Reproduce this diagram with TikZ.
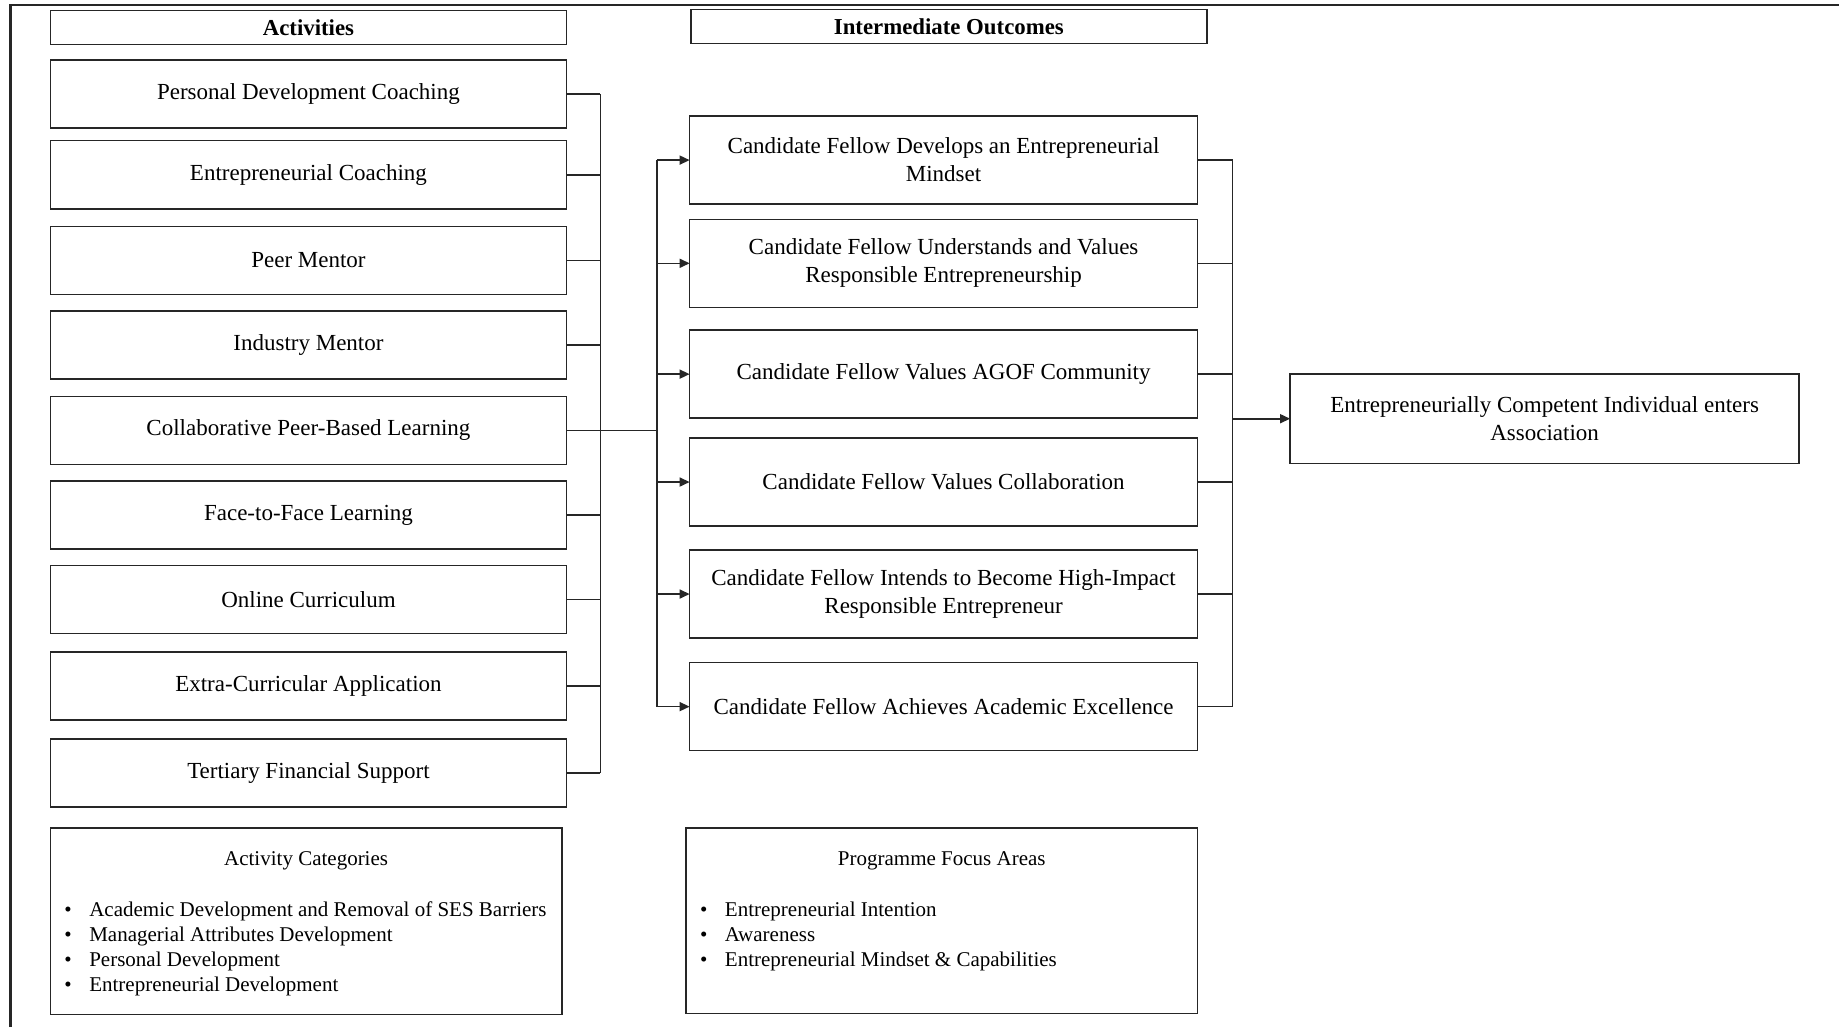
\documentclass[tikz,border=0pt]{standalone}
\usepackage{fontspec}
\setmainfont{Liberation Serif}
\usetikzlibrary{arrows.meta}
\newcommand\bitem{\makebox[12.5pt][l]{\textbullet}}
\begin{document}
\begin{tikzpicture}[x=0.5864pt,y=-0.5864pt,
  box/.style={draw=black!85, line width=0.75pt, inner sep=0pt, outer sep=0pt, align=center, font=\fontsize{11.5}{14}\selectfont},
  hdr/.style={box, font=\fontsize{11.4}{14}\selectfont\bfseries, minimum width=440*0.5864pt, minimum height=29*0.5864pt},
  act/.style={box, minimum width=440*0.5864pt, minimum height=58*0.5864pt},
  outc/.style={box, minimum width=433*0.5864pt, minimum height=75*0.5864pt},
  conn/.style={draw=black!85, line width=0.8pt},
  arr/.style={conn, -{Triangle[length=5pt,width=4.5pt]}},
  small/.style={font=\fontsize{10.5}{12.5}\selectfont, inner sep=0pt}
]
\useasboundingbox (0,0) rectangle (1568,875.7);
\draw[line width=1.1pt, black!85] (9,875.7) -- (9,4.3) -- (1568,4.3);

% headers
\node[hdr] (hact) at (263,23.5) {Activities};
\node[hdr] (hout) at (809,22.5) {Intermediate Outcomes};

% activities
\node[act] (a1) at (263,80)  {Personal Development Coaching};
\node[act] (a2) at (263,149) {Entrepreneurial Coaching};
\node[act] (a3) at (263,222) {Peer Mentor};
\node[act] (a4) at (263,294) {Industry Mentor};
\node[act] (a5) at (263,367) {Collaborative Peer-Based Learning};
\node[act] (a6) at (263,439) {Face-to-Face Learning};
\node[act] (a7) at (263,511) {Online Curriculum};
\node[act] (a8) at (263,585) {Extra-Curricular Application};
\node[act] (a9) at (263,659) {Tertiary Financial Support};

% outcomes
\node[outc] (o1) at (804.5,136.5) {Candidate Fellow Develops an Entrepreneurial\\Mindset};
\node[outc] (o2) at (804.5,224.5) {Candidate Fellow Understands and Values\\Responsible Entrepreneurship};
\node[outc] (o3) at (804.5,319)   {Candidate Fellow Values AGOF Community};
\node[outc] (o4) at (804.5,411)   {Candidate Fellow Values Collaboration};
\node[outc] (o5) at (804.5,506.5) {Candidate Fellow Intends to Become High-Impact\\Responsible Entrepreneur};
\node[outc] (o6) at (804.5,602.5) {Candidate Fellow Achieves Academic Excellence};

% final
\node[box, minimum width=434*0.5864pt, minimum height=76*0.5864pt] (fin) at (1317,357)
  {Entrepreneurially Competent Individual enters\\Association};

% connectors
\coordinate (bx) at (512,0);
\coordinate (cx) at (560,0);
\coordinate (dx) at (1051,0);
\foreach \i in {1,...,9} \draw[conn] (a\i.east) -- (a\i.east -| bx);
\draw[conn] (a1.east -| bx) -- (a9.east -| bx);
\draw[conn] (a5.east -| bx) -- (a5.east -| cx);
\draw[conn] (o1.west -| cx) -- (o6.west -| cx);
\foreach \i in {1,...,6} \draw[arr] (o\i.west -| cx) -- (o\i.west);
\foreach \i in {1,...,6} \draw[conn] (o\i.east) -- (o\i.east -| dx);
\draw[conn] (o1.east -| dx) -- (o6.east -| dx);
\draw[arr] (fin.west -| dx) -- (fin.west);

% bottom boxes
\node[box, minimum width=436*0.5864pt, minimum height=159*0.5864pt] (cat) at (261,785.5) {};
\node[small] (catt) at (261,734) {Activity Categories};
\node[small, anchor=west, align=left] (catl) at (54.5,809)
  {\bitem Academic Development and Removal of SES Barriers\\
   \bitem Managerial Attributes Development\\
   \bitem Personal Development\\
   \bitem Entrepreneurial Development};

\node[box, minimum width=436*0.5864pt, minimum height=158*0.5864pt] (foc) at (803,785) {};
\node[small] (foct) at (803,734) {Programme Focus Areas};
\node[small, anchor=west, align=left] (focl) at (596.5,798.5)
  {\bitem Entrepreneurial Intention\\
   \bitem Awareness\\
   \bitem Entrepreneurial Mindset \& Capabilities};
\end{tikzpicture}
\end{document}
